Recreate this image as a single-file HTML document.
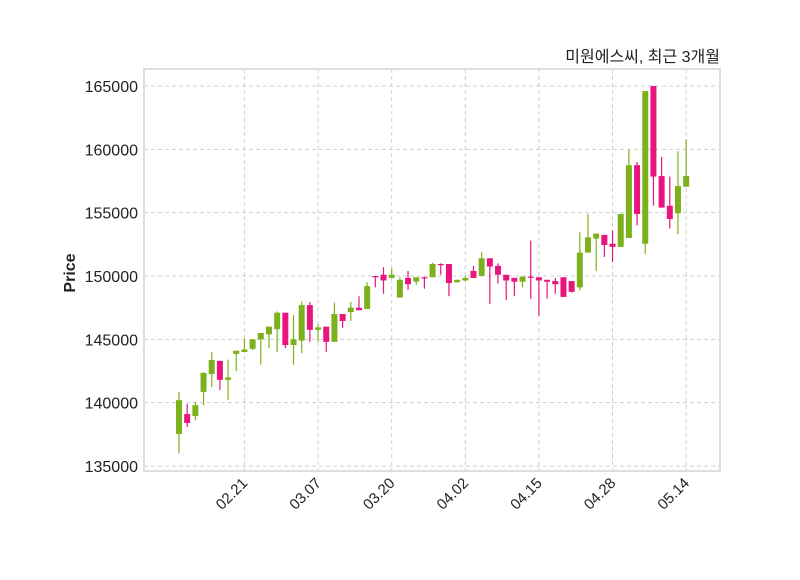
<!DOCTYPE html>
<html><head><meta charset="utf-8"><style>
body{margin:0;background:#fff}
svg text{font-family:"Liberation Sans","Noto Sans CJK KR",sans-serif}
</style></head><body>
<svg id="chart" width="800" height="575" xmlns="http://www.w3.org/2000/svg">
<rect width="800" height="575" fill="#fff"/>
<g id="grid"></g>
<rect x="144" y="69" width="576" height="402" fill="none" stroke="#dedede" stroke-width="2"/>
<g id="candles"></g>
<g id="axes"></g>
<text x="720" y="62" text-anchor="end" font-size="16" fill="#222">미원에스씨, 최근 3개월</text>
<text x="75" y="273" text-anchor="middle" font-size="16" font-weight="bold" fill="#222" transform="rotate(-90 75 273)">Price</text>
</svg>
<script>
const opens  = [137530,139100,138950,140850,142260,143300,141800,143850,144000,144250,145000,145400,145800,147100,144550,144900,147700,145750,146000,144800,147000,147150,147500,147400,150000,150100,149850,148300,149850,149550,149900,149900,150950,150950,149500,149650,150400,150000,151400,150800,150100,149850,149550,149950,149900,149700,149600,149900,149600,149100,151850,152950,153250,152550,152300,153000,158750,152550,165000,157900,155550,154950,157050];
const closes = [140200,138400,139800,142350,143370,141800,142000,144100,144200,145000,145500,146000,147100,144550,145000,147700,145750,145950,144800,147000,146450,147500,147300,149200,149900,149650,150100,149700,149350,149900,149850,150950,150850,149450,149700,149850,149850,151400,150750,150100,149650,149550,149950,149870,149650,149550,149350,148350,148750,151850,153050,153350,152450,152300,154900,158750,154900,164600,157850,155400,154500,157100,157900];
const highs  = [140850,139900,140050,142400,144000,143300,143400,144100,145000,145000,145500,146000,147200,147100,146900,148000,147950,146200,146000,147900,147000,147950,148400,149500,150000,150700,150600,149900,150400,149900,149950,151050,151000,150950,149700,150000,150800,151900,151400,151000,150100,149850,149950,152800,149900,149700,149850,149900,149600,153450,154900,153350,153250,153600,154900,160000,159000,164600,165000,159400,157850,159850,160800];
const lows   = [136000,138080,138600,139800,141240,141000,140200,142500,144000,144150,143000,144300,144000,144300,143000,143900,144800,144800,144000,144800,145900,146450,147300,147400,149100,148600,149800,148300,148900,149300,149000,149900,150100,148400,149500,149600,149850,150000,147800,149400,148100,148400,149100,148200,146850,148200,148600,148350,148700,148850,151850,150400,151500,151100,152300,153000,154000,151750,155550,155400,153750,153300,157050];
const yTicks = [135000,140000,145000,150000,155000,160000,165000];
const xTickIdx = [8,17,26,35,44,53,62];
const xTickLabels = ["02.21","03.07","03.20","04.02","04.15","04.28","05.14"];
const NS="http://www.w3.org/2000/svg";
const yS = p => 466 - (p-135000)/5000*63.33;
const xS = i => 179 + i*8.18;
const grid=document.getElementById('grid'), cg=document.getElementById('candles'), ax=document.getElementById('axes');
function mk(tag,attrs,parent){const e=document.createElementNS(NS,tag);for(const k in attrs)e.setAttribute(k,attrs[k]);parent.appendChild(e);return e;}
yTicks.forEach(v=>{
  const y=yS(v);
  const l=mk('line',{x1:144,x2:720,y1:y,y2:y,stroke:'#cfcfcf','stroke-dasharray':'4,3'},grid);
  
  
  const t=mk('text',{x:138,y:y+6,'text-anchor':'end','font-size':'16',fill:'#222'},ax);
  t.textContent=v;
  
  
});
xTickIdx.forEach((idx,k)=>{
  const x=xS(idx);
  const l=mk('line',{x1:x,x2:x,y1:69,y2:471,stroke:'#cfcfcf','stroke-dasharray':'4,3'},grid);
  
  
  const t=mk('text',{x:x+4,y:484,'text-anchor':'end','font-size':'15',fill:'#222',transform:`rotate(-45 ${x+4} 484)`},ax);
  t.textContent=xTickLabels[k];
  
  
});
opens.forEach((o,i)=>{
  const c=closes[i], up=c>=o, col=up?'#7cb11b':'#e8157d';
  const x=xS(i);
  const w=mk('line',{x1:x,x2:x,y1:yS(highs[i]),y2:yS(lows[i]),stroke:col,'stroke-width':1.2},cg);
  
  
  const top=yS(Math.max(o,c)), bot=yS(Math.min(o,c));
  const b=mk('rect',{x:x-3,y:top,width:6,height:Math.max(1.2,bot-top),fill:col},cg);
  
  
});
</script>
</body></html>
